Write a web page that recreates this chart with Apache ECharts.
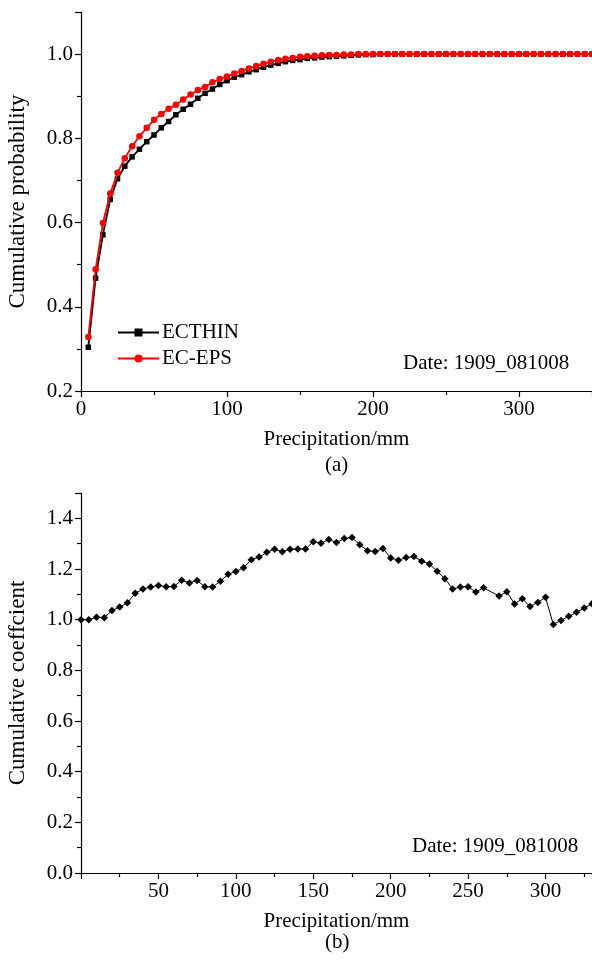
<!DOCTYPE html>
<html>
<head>
<meta charset="utf-8">
<script src="https://cdn.jsdelivr.net/npm/echarts@6/dist/echarts.min.js"></script>
<style>
html,body{margin:0;padding:0;background:#fff;}
#chart{width:592px;height:962px;}
</style>
</head>
<body>
<div id="chart"></div>
<script>
// ---- Data (a) ----
var precipA = [5,10,15,20,25,30,35,40,45,50,55,60,65,70,75,80,85,90,95,100,
  105,110,115,120,125,130,135,140,145,150,155,160,165,170,175,180,185,190,195,200,
  205,210,215,220,225,230,235,240,245,250,255,260,265,270,275,280,285,290,295,300,
  305,310,315,320,325,330,335,340,345,350];
var ecthin = [0.304,0.468,0.571,0.655,0.704,0.734,0.756,0.774,0.792,0.808,0.825,0.840,0.856,0.869,0.881,0.895,0.907,0.917,0.928,0.937,
  0.945,0.951,0.958,0.963,0.969,0.974,0.978,0.982,0.985,0.987,0.990,0.991,0.993,0.994,0.995,0.996,0.997,0.998,0.999,0.999,
  1.0,1.0,1.0,1.0,1.0,1.0,1.0,1.0,1.0,1.0,1.0,1.0,1.0,1.0,1.0,1.0,1.0,1.0,1.0,1.0,
  1.0,1.0,1.0,1.0,1.0,1.0,1.0,1.0,1.0,1.0];
var ecEps = [0.328,0.489,0.599,0.669,0.718,0.753,0.781,0.805,0.825,0.844,0.858,0.870,0.880,0.892,0.904,0.915,0.922,0.933,0.941,0.947,
  0.954,0.960,0.966,0.972,0.977,0.982,0.986,0.989,0.991,0.994,0.995,0.996,0.997,0.998,0.998,0.999,0.999,1.0,1.0,1.0,
  1.0,1.0,1.0,1.0,1.0,1.0,1.0,1.0,1.0,1.0,1.0,1.0,1.0,1.0,1.0,1.0,1.0,1.0,1.0,1.0,
  1.0,1.0,1.0,1.0,1.0,1.0,1.0,1.0,1.0,1.0];
// ---- Data (b) ----
var precipB = [0,5,10,15,20,25,30,35,40,45,50,55,60,65,70,75,80,85,90,95,100,
  105,110,115,120,125,130,135,140,145,150,155,160,165,170,175,180,185,190,195,200,
  205,210,215,220,225,230,235,240,245,250,255,260,270,275,280,285,290,295,300,
  305,310,315,320,325,330];
var coeff = [1.000,1.000,1.010,1.008,1.036,1.050,1.067,1.104,1.121,1.129,1.135,1.130,1.131,1.156,1.145,1.155,1.130,1.129,1.152,1.179,1.190,
  1.205,1.237,1.247,1.266,1.278,1.268,1.278,1.279,1.279,1.308,1.302,1.316,1.305,1.320,1.324,1.296,1.272,1.269,1.281,1.243,
  1.235,1.245,1.249,1.231,1.220,1.191,1.162,1.121,1.129,1.130,1.109,1.126,1.093,1.110,1.062,1.083,1.052,1.068,1.088,
  0.981,0.997,1.013,1.029,1.046,1.063];
var seriesNames = ['ECTHIN','EC-EPS'];
var dateLabel = 'Date: 1909_081008';

function pairs(xs, ys){ return xs.map(function(x,i){ return [x, ys[i]]; }); }

var FONT = 'Liberation Serif';
var fs = 21;
var fsY = 23;
var axisLineStyle = {color:'#000', width:1.2};

var chart = echarts.init(document.getElementById('chart'), null, {renderer:'canvas'});
chart.setOption({
  animation:false,
  backgroundColor:'#fff',
  textStyle:{fontFamily:FONT, color:'#000'},
  grid:[
    {left:81, right:0, top:12, height:379, containLabel:false, outerBoundsMode:'none'},
    {left:81, right:0, top:493, height:380, containLabel:false, outerBoundsMode:'none'}
  ],
  xAxis:[
    {gridIndex:0, type:'value', min:0, max:350, interval:100,
     name:'Precipitation/mm', nameLocation:'middle', nameGap:38,
     nameTextStyle:{fontFamily:FONT, fontSize:fs, color:'#000'},
     axisLine:{show:true, onZero:false, lineStyle:axisLineStyle},
     axisTick:{show:true, inside:false, length:6, lineStyle:{color:'#000', width:1.2}},
     minorTick:{show:true, splitNumber:2, length:4, lineStyle:{color:'#000', width:1.2}},
     axisLabel:{fontFamily:FONT, fontSize:fs, color:'#000', margin:8,
       formatter:function(v){ return v % 100 === 0 ? String(v) : ''; }},
     splitLine:{show:false}},
    {gridIndex:1, type:'value', min:0, max:330, interval:50,
     name:'Precipitation/mm', nameLocation:'middle', nameGap:38,
     nameTextStyle:{fontFamily:FONT, fontSize:fs, color:'#000'},
     axisLine:{show:true, onZero:false, lineStyle:axisLineStyle},
     axisTick:{show:true, inside:false, length:6, lineStyle:{color:'#000', width:1.2}},
     minorTick:{show:true, splitNumber:2, length:4, lineStyle:{color:'#000', width:1.2}},
     axisLabel:{fontFamily:FONT, fontSize:fs, color:'#000', margin:8,
       formatter:function(v){ return (v > 0 && v % 50 === 0) ? String(v) : ''; }},
     splitLine:{show:false}}
  ],
  yAxis:[
    {gridIndex:0, type:'value', min:0.2, max:1.1, interval:0.2,
     name:'Cumulative probability', nameLocation:'middle', nameGap:52,
     nameTextStyle:{fontFamily:FONT, fontSize:fsY, color:'#000'},
     axisLine:{show:true, onZero:false, lineStyle:axisLineStyle},
     axisTick:{show:true, inside:false, length:6, lineStyle:{color:'#000', width:1.2}},
     minorTick:{show:true, splitNumber:2, length:4, lineStyle:{color:'#000', width:1.2}},
     axisLabel:{fontFamily:FONT, fontSize:fs, color:'#000', margin:8,
       formatter:function(v){ return Math.abs(v*10 - Math.round(v*10)) < 1e-6 && Math.round(v*10) % 2 === 0 ? v.toFixed(1) : ''; }},
     splitLine:{show:false}},
    {gridIndex:1, type:'value', min:0, max:1.5, interval:0.2,
     name:'Cumulative coeffcient', nameLocation:'middle', nameGap:52,
     nameTextStyle:{fontFamily:FONT, fontSize:fsY, color:'#000'},
     axisLine:{show:true, onZero:false, lineStyle:axisLineStyle},
     axisTick:{show:true, inside:false, length:6, lineStyle:{color:'#000', width:1.2}},
     minorTick:{show:true, splitNumber:2, length:4, lineStyle:{color:'#000', width:1.2}},
     axisLabel:{fontFamily:FONT, fontSize:fs, color:'#000', margin:8,
       formatter:function(v){ return Math.round(v*10) % 2 === 0 ? v.toFixed(1) : ''; }},
     splitLine:{show:false}}
  ],
  legend:{
    data:seriesNames, orient:'vertical', left:117, top:322,
    itemWidth:41, itemHeight:10, itemGap:5, padding:0,
    textStyle:{fontFamily:FONT, fontSize:fs, color:'#000', padding:[0,0,0,-2]}
  },
  graphic:[
    {type:'text', left:403, top:353, style:{text:dateLabel, font:fs+'px "Liberation Serif"', fill:'#000'}},
    {type:'text', left:412, top:836, style:{text:dateLabel, font:fs+'px "Liberation Serif"', fill:'#000'}},
    {type:'text', left:325, top:455, style:{text:'(a)', font:fs+'px "Liberation Serif"', fill:'#000'}},
    {type:'text', left:325, top:932, style:{text:'(b)', font:fs+'px "Liberation Serif"', fill:'#000'}}
  ],
  series:[
    {name:seriesNames[0], type:'line', xAxisIndex:0, yAxisIndex:0, data:pairs(precipA, ecthin),
     symbol:'rect', symbolSize:5.5, showSymbol:true,
     lineStyle:{color:'#000', width:1.8}, itemStyle:{color:'#000'}, z:2},
    {name:seriesNames[1], type:'line', xAxisIndex:0, yAxisIndex:0, data:pairs(precipA, ecEps),
     symbol:'circle', symbolSize:6.5, showSymbol:true,
     lineStyle:{color:'#ff0000', width:1.8}, itemStyle:{color:'#ff0000'}, z:3},
    {name:'coeff', type:'line', xAxisIndex:1, yAxisIndex:1, data:pairs(precipB, coeff),
     symbol:'diamond', symbolSize:7.5, showSymbol:true,
     lineStyle:{color:'#000', width:1}, itemStyle:{color:'#000'}}
  ]
});
</script>
</body>
</html>
